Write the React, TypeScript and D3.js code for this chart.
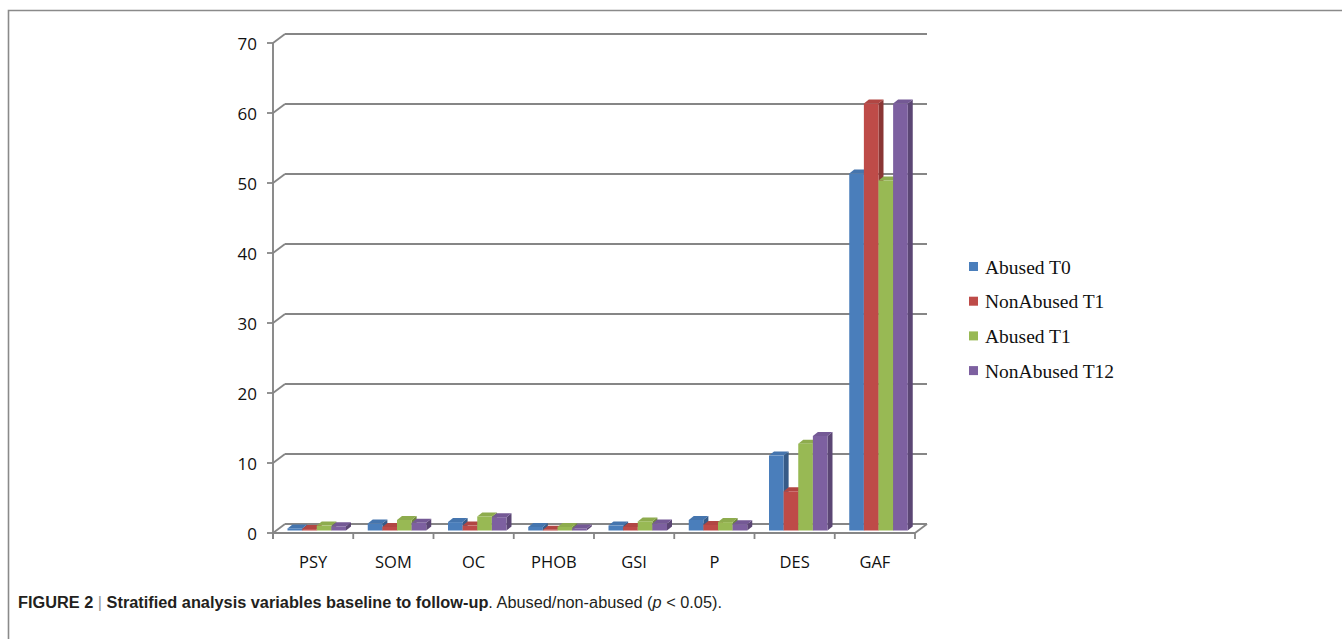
import React from "react";
import * as d3 from "d3";

const categories = ["PSY", "SOM", "OC", "PHOB", "GSI", "P", "DES", "GAF"];
const seriesNames = ["Abused T0", "NonAbused T1", "Abused T1", "NonAbused T12"];
const abusedT0 = [0.3, 1.0, 1.2, 0.5, 0.7, 1.5, 10.7, 51];
const nonAbusedT1 = [0.2, 0.5, 0.7, 0.1, 0.5, 0.8, 5.6, 61];
const abusedT1 = [0.7, 1.5, 2.0, 0.5, 1.3, 1.2, 12.4, 50];
const nonAbusedT12 = [0.6, 1.1, 1.9, 0.3, 1.0, 0.9, 13.5, 61];
const seriesValues = [abusedT0, nonAbusedT1, abusedT1, nonAbusedT12];
const seriesColors = ["#4A7EBB", "#BE4B48", "#98B954", "#7D60A0"];
const yTicks = [0, 10, 20, 30, 40, 50, 60, 70];

const W = 1342;
const H = 639;
const X0 = 273;
const X1 = 915;
const DX = 12;
const DY = -9;
const BDX = 5;
const BDY = -4;
const GRID = "#868686";

export default function App() {
  const xCat = d3.scaleBand<string>().domain(categories).range([X0, X1]);
  const yFront = d3.scaleLinear().domain([0, 70]).range([533, 43]);
  const yBar = d3.scaleLinear().domain([0, 70]).range([530.5, 40.5]);
  const xSeries = d3
    .scaleBand<number>()
    .domain(d3.range(seriesNames.length))
    .range([14.5, 73]);
  const bw = xSeries.bandwidth();

  const bars: React.ReactNode[] = [];
  categories.forEach((c, ci) => {
    seriesValues.forEach((vals, si) => {
      const v = vals[ci];
      const x = (xCat(c) as number) + (xSeries(si) as number);
      const yt = yBar(v);
      const yb = yBar(0);
      const col = d3.color(seriesColors[si])!;
      const side = col.darker(0.9).formatHex();
      const top = col.darker(0.2).formatHex();
      const key = `${ci}-${si}`;
      bars.push(
        <g key={key}>
          <path
            d={`M${x + bw},${yt} L${x + bw + BDX},${yt + BDY} L${x + bw + BDX},${yb + BDY} L${x + bw},${yb} Z`}
            fill={side}
          />
          <path
            d={`M${x},${yt} L${x + BDX},${yt + BDY} L${x + bw + BDX},${yt + BDY} L${x + bw},${yt} Z`}
            fill={top}
          />
          <rect x={x} y={yt} width={bw} height={Math.max(0, yb - yt)} fill={seriesColors[si]} />
        </g>
      );
    });
  });

  const boundaries = d3.range(categories.length + 1).map((i) => X0 + i * xCat.step());

  return (
    <svg
      width={W}
      height={H}
      viewBox={`0 0 ${W} ${H}`}
      style={{ position: "absolute", left: 0, top: 0, background: "#fff" }}
    >
      <rect x={0} y={0} width={W} height={H} fill="#fff" />
      {/* figure frame */}
      <path d={`M${W},10.5 H8.5 V${H}`} fill="none" stroke="#8a8a8a" strokeWidth={1.6} />

      {/* gridlines on back wall with left wall diagonals */}
      {yTicks.map((t) => {
        const y = yFront(t);
        return (
          <g key={t}>
            <line x1={X0} y1={y} x2={X0 + DX} y2={y + DY} stroke={GRID} strokeWidth={1.8} />
            <line x1={X0 + DX} y1={y + DY} x2={X1 + DX} y2={y + DY} stroke={GRID} strokeWidth={1.8} />
            <line x1={X0 - 6} y1={y} x2={X0} y2={y} stroke={GRID} strokeWidth={1.8} />
          </g>
        );
      })}
      {/* floor front edge and right diagonal */}
      <line x1={X0} y1={yFront(0)} x2={X1} y2={yFront(0)} stroke={GRID} strokeWidth={1.8} />
      <line x1={X1} y1={yFront(0)} x2={X1 + DX} y2={yFront(0) + DY} stroke={GRID} strokeWidth={1.8} />
      {/* front vertical axis */}
      <line x1={X0} y1={yFront(70)} x2={X0} y2={yFront(0) + 6} stroke={GRID} strokeWidth={1.9} />
      {/* category ticks */}
      {boundaries.map((bx, i) => (
        <line key={i} x1={bx} y1={yFront(0)} x2={bx} y2={yFront(0) + 6} stroke={GRID} strokeWidth={1.8} />
      ))}

      {bars}

      {/* y tick labels */}
      {yTicks.map((t) => (
        <text
          key={t}
          x={257}
          y={yFront(t)}
          textAnchor="end"
          dominantBaseline="central"
          fontFamily="'Open Sans', sans-serif"
          fontSize={17}
          fill="#111"
        >
          {t}
        </text>
      ))}
      {/* category labels */}
      {categories.map((c) => (
        <text
          key={c}
          x={(xCat(c) as number) + xCat.bandwidth() / 2}
          y={561}
          textAnchor="middle"
          dominantBaseline="central"
          fontFamily="'Open Sans', sans-serif"
          fontSize={16.5}
          fill="#111"
        >
          {c}
        </text>
      ))}

      {/* legend */}
      {seriesNames.map((n, i) => {
        const y = 267 + i * 34.7;
        return (
          <g key={n}>
            <rect x={969} y={y - 5} width={9} height={9} fill={seriesColors[i]} />
            <text
              x={985}
              y={y}
              dominantBaseline="central"
              fontFamily="'Liberation Serif', 'Times New Roman', serif"
              fontSize={19.5}
              fill="#111"
            >
              {n}
            </text>
          </g>
        );
      })}

      {/* caption */}
      <text
        x={18}
        y={608}
        fontFamily="'Liberation Sans', Arial, sans-serif"
        fontSize={16}
        fill="#231f20"
        textLength={704}
        lengthAdjust="spacingAndGlyphs"
      >
        <tspan fontWeight="bold">FIGURE 2 </tspan>
        <tspan fill="#9a9a9a">|</tspan>
        <tspan fontWeight="bold"> Stratified analysis variables baseline to follow-up</tspan>
        <tspan>. Abused/non-abused (</tspan>
        <tspan fontStyle="italic">p</tspan>
        <tspan> &lt; 0.05).</tspan>
      </text>
    </svg>
  );
}
